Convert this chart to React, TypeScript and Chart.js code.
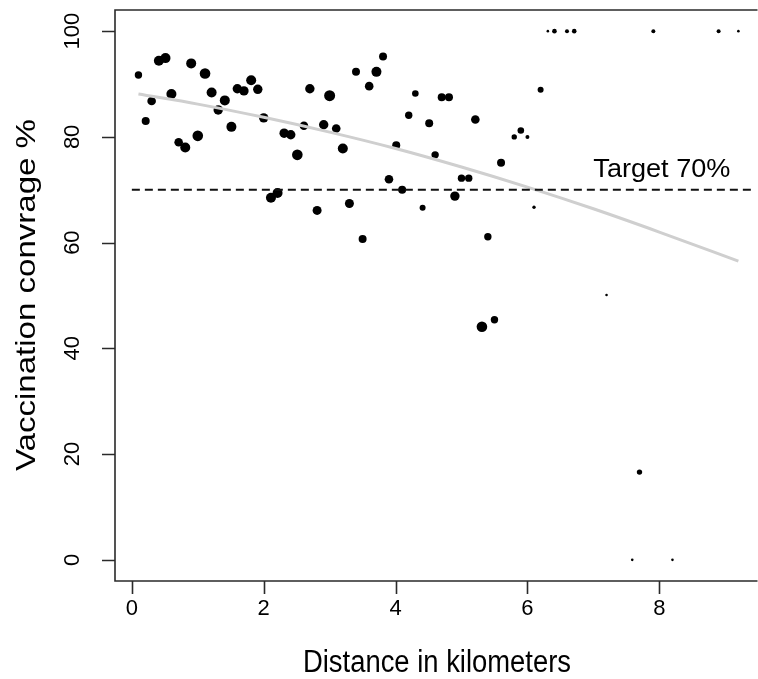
import React, { useEffect, useRef } from "react";
import { Chart, registerables } from "chart.js";

Chart.register(...registerables);

// ---- data ----
const DISTANCE_KM = [
  0.1, 0.21, 0.3, 0.41, 0.51, 0.6, 0.71, 0.81, 0.9, 1.0,
  1.11, 1.21, 1.31, 1.41, 1.51, 1.6, 1.7, 1.81, 1.91, 2.0,
  2.11, 2.21, 2.31, 2.41, 2.51, 2.61, 2.7, 2.81, 2.91, 3.0,
  3.1, 3.2, 3.3, 3.4, 3.5, 3.6, 3.71, 3.81, 3.9, 4.01,
  4.1, 4.2, 4.3, 4.41, 4.51, 4.6, 4.7, 4.81, 4.9, 5.0,
  5.11, 5.21, 5.31, 5.4, 5.5, 5.6, 5.8, 5.9, 6.0, 6.1,
  6.2, 6.31, 6.41, 6.6, 6.71, 7.2, 7.59, 7.7, 7.91, 8.2,
  8.9, 9.2,
];
const COVERAGE_PCT = [
  91.7, 83.0, 86.8, 94.4, 94.9, 88.1, 79.0, 78.0, 93.9, 80.2,
  92.0, 88.4, 85.1, 86.9, 81.9, 89.1, 88.7, 90.7, 89.0, 83.6,
  68.5, 69.4, 80.7, 80.4, 76.6, 82.1, 89.1, 66.1, 82.3, 87.8,
  81.6, 77.8, 67.4, 92.3, 60.7, 89.6, 92.3, 95.2, 72.0, 78.4,
  70.0, 84.1, 88.2, 66.6, 82.6, 76.6, 87.5, 87.5, 68.8, 72.2,
  72.2, 83.3, 44.1, 61.1, 45.4, 75.1, 80.0, 81.2, 80.0, 66.7,
  88.9, 100, 100, 100, 100, 50.1, 0, 16.6, 100, 0,
  100, 100,
];
// relative weight of each village (drawn as symbol size)
const WEIGHT = [
  3.7, 4.0, 4.3, 5.0, 5.0, 5.0, 4.3, 5.0, 5.0, 5.3,
  5.3, 5.0, 4.7, 5.0, 5.0, 4.7, 4.7, 5.0, 4.7, 4.7,
  5.0, 5.0, 4.7, 4.7, 5.3, 4.3, 4.7, 4.5, 4.7, 5.5,
  4.3, 5.0, 4.5, 4.0, 4.0, 4.3, 5.0, 4.0, 4.3, 4.0,
  4.0, 3.7, 3.3, 3.0, 4.0, 3.7, 4.0, 4.0, 4.7, 3.7,
  3.7, 4.3, 5.3, 3.7, 3.7, 4.0, 2.7, 3.3, 2.0, 1.7,
  3.0, 1.3, 2.3, 2.0, 2.3, 1.3, 1.3, 2.7, 2.0, 1.3,
  2.0, 1.3,
];
// fitted trend (grey curve)
const FIT_X = [0.1, 1, 2, 3, 4, 5, 6, 7, 8, 9.2];
const FIT_Y = [88.1, 86.2, 83.7, 80.9, 77.8, 74.3, 70.5, 66.4, 62.0, 56.5];

const TARGET = 70;
const TARGET_LABEL = "Target 70%";
const X_TICKS = [0, 2, 4, 6, 8];
const Y_TICKS = [0, 20, 40, 60, 80, 100];
const X_TITLE = "Distance in kilometers";
const Y_TITLE = "Vaccination convrage %";

const X_MIN = -0.2556;
const X_MAX = 9.414;
const Y_MIN = -4;
const Y_MAX = 104;

const FONT = "'Liberation Sans', Arial, Helvetica, sans-serif";

function drawFitText(
  ctx: CanvasRenderingContext2D,
  text: string,
  x: number,
  y: number,
  size: number,
  width: number | null,
  rot: number,
  align: CanvasTextAlign
) {
  ctx.save();
  ctx.font = `${size}px ${FONT}`;
  ctx.textAlign = align;
  ctx.textBaseline = "middle";
  ctx.fillStyle = "#000";
  const w = ctx.measureText(text).width;
  const sx = width ? width / w : 1;
  ctx.translate(x, y);
  ctx.rotate(rot);
  ctx.scale(sx, 1);
  ctx.fillText(text, 0, 0);
  ctx.restore();
}

const axesPlugin = {
  id: "rAxes",
  afterDraw(chart: any) {
    const ctx: CanvasRenderingContext2D = chart.ctx;
    const { left, top, right, bottom } = chart.chartArea;
    const xs = chart.scales.x;
    const ys = chart.scales.y;
    ctx.save();
    ctx.strokeStyle = "#2a2a2a";
    ctx.lineWidth = 1.6;
    ctx.beginPath();
    ctx.moveTo(right + 5, top);
    ctx.lineTo(left, top);
    ctx.lineTo(left, bottom);
    ctx.lineTo(right + 5, bottom);
    ctx.stroke();
    // ticks
    ctx.beginPath();
    X_TICKS.forEach((v) => {
      const px = Math.round(xs.getPixelForValue(v)) + 0.5;
      ctx.moveTo(px, bottom);
      ctx.lineTo(px, bottom + 13);
    });
    Y_TICKS.forEach((v) => {
      const py = Math.round(ys.getPixelForValue(v)) + 0.5;
      ctx.moveTo(left, py);
      ctx.lineTo(left - 13, py);
    });
    ctx.stroke();
    ctx.restore();

    X_TICKS.forEach((v) => {
      drawFitText(ctx, String(v), xs.getPixelForValue(v), bottom + 28, 22, null, 0, "center");
    });
    Y_TICKS.forEach((v) => {
      drawFitText(ctx, String(v), left - 42, ys.getPixelForValue(v), 22, null, -Math.PI / 2, "center");
    });
    drawFitText(ctx, X_TITLE, 437, 663, 31, 268, 0, "center");
    drawFitText(ctx, Y_TITLE, 27, 295, 28, 352, -Math.PI / 2, "center");
    // target label
    drawFitText(
      ctx,
      TARGET_LABEL,
      xs.getPixelForValue(7.0),
      ys.getPixelForValue(73.7),
      26,
      137,
      0,
      "left"
    );
  },
};

export default function App() {
  const ref = useRef<HTMLCanvasElement | null>(null);
  useEffect(() => {
    const canvas = ref.current;
    if (!canvas) return;
    const points = DISTANCE_KM.map((x, i) => ({ x, y: COVERAGE_PCT[i] }));
    const fit = FIT_X.map((x, i) => ({ x, y: FIT_Y[i] }));
    const target = [
      { x: 0, y: TARGET },
      { x: X_MAX, y: TARGET },
    ];
    const chart = new Chart(canvas, {
      type: "scatter",
      data: {
        datasets: [
          {
            type: "line",
            data: target,
            borderColor: "#111",
            borderWidth: 2,
            borderDash: [8, 5],
            pointRadius: 0,
            order: 1,
          } as any,
          {
            type: "line",
            data: fit,
            borderColor: "#cfcfcf",
            borderWidth: 3,
            pointRadius: 0,
            cubicInterpolationMode: "monotone",
            order: 2,
          } as any,
          {
            data: points,
            backgroundColor: "#000",
            borderWidth: 0,
            pointRadius: WEIGHT as any,
            pointHoverRadius: WEIGHT as any,
            order: 3,
          },
        ],
      },
      options: {
        responsive: false,
        animation: false,
        devicePixelRatio: 1,
        layout: { padding: { left: 115, top: 10, right: 0, bottom: 98 } },
        plugins: { legend: { display: false }, tooltip: { enabled: false } },
        events: [],
        scales: {
          x: { type: "linear", min: X_MIN, max: X_MAX, display: false },
          y: { type: "linear", min: Y_MIN, max: Y_MAX, display: false },
        },
      },
      plugins: [axesPlugin],
    });
    return () => chart.destroy();
  }, []);
  return (
    <div style={{ position: "absolute", left: 0, top: 0, width: 758, height: 679, background: "#fff" }}>
      <canvas ref={ref} width={758} height={679} style={{ display: "block" }} />
    </div>
  );
}
